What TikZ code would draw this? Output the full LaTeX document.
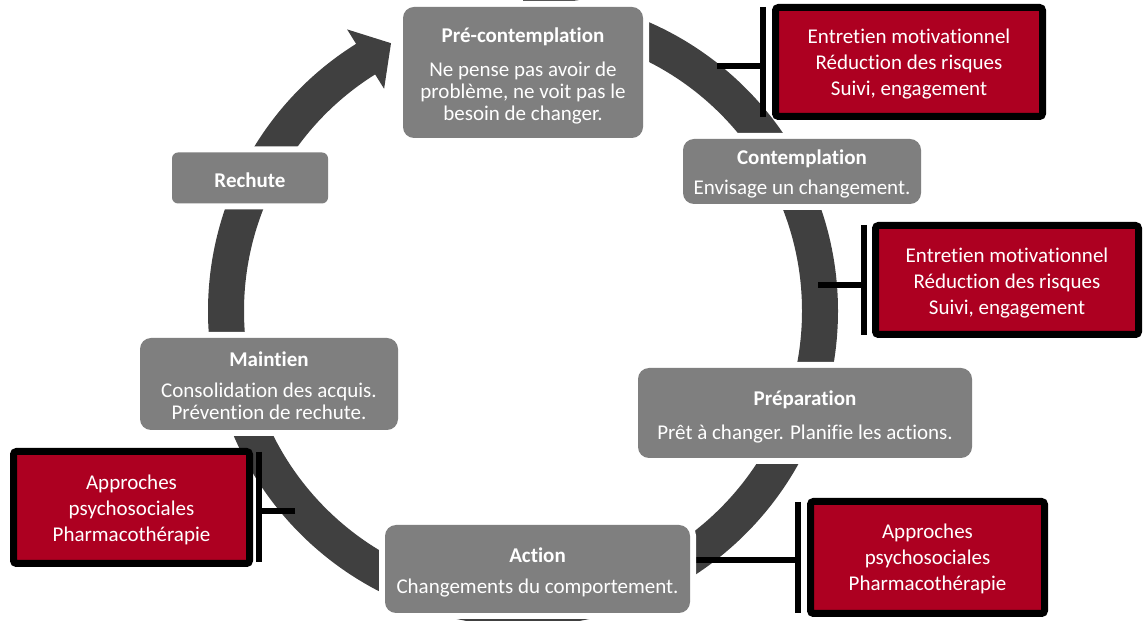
\documentclass[tikz,border=0pt]{standalone}
\usepackage{fontspec}
\setmainfont{Carlito}[RawFeature={-liga;-clig}]
\definecolor{ringc}{HTML}{404040}
\definecolor{boxg}{HTML}{7F7F7F}
\definecolor{redc}{HTML}{AD0021}
\begin{document}
\begin{tikzpicture}[x=1pt,y=1pt,
  gbox/.style={fill=boxg, rounded corners=11pt, inner sep=0pt,
    preaction={draw=white, line width=12pt}},
  rbox/.style={fill=redc, draw=black, line width=7pt, rounded corners=3pt, inner sep=0pt},
  ttl/.style={text=white, font=\fontsize{21}{22}\selectfont\bfseries, align=center, inner sep=0pt},
  bdy/.style={text=white, font=\fontsize{21}{22}\selectfont, align=center, inner sep=0pt},
  rtx/.style={text=white, font=\fontsize{21}{26}\selectfont, align=center, inner sep=0pt},
  conn/.style={draw=black, line width=6pt},
  ringline/.style={draw=ringc, line width=36pt}]
\useasboundingbox (0,0) rectangle (1143,621);
% ring
\coordinate (c) at (523,310);
\draw[ringline] (c) ++(90:297) arc[start angle=90, end angle=-238.5, radius=297pt];
\coordinate (hA) at (347.1,591.6);
\coordinate (hB) at (384.1,532.2);
\coordinate (hT) at (391.0,577.8);
\fill[ringc] (hA) -- (hT) -- (hB) -- cycle;
% connector coordinates
\coordinate (r1a) at (717,555); \coordinate (r1b) at (763,555);
\coordinate (r1t) at (763,614); \coordinate (r1u) at (763,504);
\coordinate (r2a) at (818,336); \coordinate (r2b) at (864,336);
\coordinate (r2t) at (864,396); \coordinate (r2u) at (864,286);
\coordinate (r3a) at (295,110); \coordinate (r3b) at (259,110);
\coordinate (r3t) at (259,169); \coordinate (r3u) at (259,59);
\coordinate (r4a) at (680,61); \coordinate (r4b) at (798,61);
\coordinate (r4t) at (798,119); \coordinate (r4u) at (798,8);
\draw[conn] (r1a) -- (r1b); \draw[conn] (r1t) -- (r1u);
\draw[conn] (r2a) -- (r2b); \draw[conn] (r2t) -- (r2u);
\draw[conn] (r3a) -- (r3b); \draw[conn] (r3t) -- (r3u);
\draw[conn] (r4a) -- (r4b); \draw[conn] (r4t) -- (r4u);
% gray boxes
\node[gbox, minimum width=240pt, minimum height=131pt] (pre) at (523,548.5) {};
\node[gbox, minimum width=238pt, minimum height=65pt] (cont) at (802,449.5) {};
\node[gbox, minimum width=334pt, minimum height=90pt] (prep) at (805,208) {};
\node[gbox, minimum width=305pt, minimum height=88pt] (act) at (537.5,52) {};
\node[gbox, minimum width=258pt, minimum height=92pt] (maint) at (269,237) {};
\node[gbox, minimum width=156pt, minimum height=51pt, rounded corners=6pt] (rech) at (250,443) {};
% gray box texts
\node[ttl] (preT) at (523,584) {Pré-contemplation};
\node[bdy] (preB) at (523,528) {Ne pense pas avoir de\\problème, ne voit pas le\\besoin de changer.};
\node[ttl] (contT) at (802,462) {Contemplation};
\node[bdy] (contB) at (802,432) {Envisage un changement.};
\node[ttl] (prepT) at (805,221) {Préparation};
\node[bdy] (prepB) at (805,187) {Prêt à changer. Planifie les actions.};
\node[ttl] (actT) at (537.5,66) {Action};
\node[bdy] (actB) at (537.5,33) {Changements du comportement.};
\node[ttl] (maintT) at (269,262) {Maintien};
\node[bdy] (maintB) at (269,220) {Consolidation des acquis.\\Prévention de rechute.};
\node[ttl] (rechT) at (250,441) {Rechute};
% red boxes
\node[rbox, minimum width=267pt, minimum height=109pt] (red1) at (909,559) {};
\node[rbox, minimum width=263pt, minimum height=109pt] (red2) at (1007,341) {};
\node[rbox, minimum width=236pt, minimum height=112pt] (red3) at (131.5,113.5) {};
\node[rbox, minimum width=234pt, minimum height=112pt] (red4) at (927.5,63.5) {};
\node[rtx] (red1T) at (909,557) {Entretien motivationnel\\Réduction des risques\\Suivi, engagement};
\node[rtx] (red2T) at (1007,338) {Entretien motivationnel\\Réduction des risques\\Suivi, engagement};
\node[rtx] (red3T) at (131.5,111) {Approches\\psychosociales\\Pharmacothérapie};
\node[rtx] (red4T) at (927.5,62) {Approches\\psychosociales\\Pharmacothérapie};
\end{tikzpicture}
\end{document}
